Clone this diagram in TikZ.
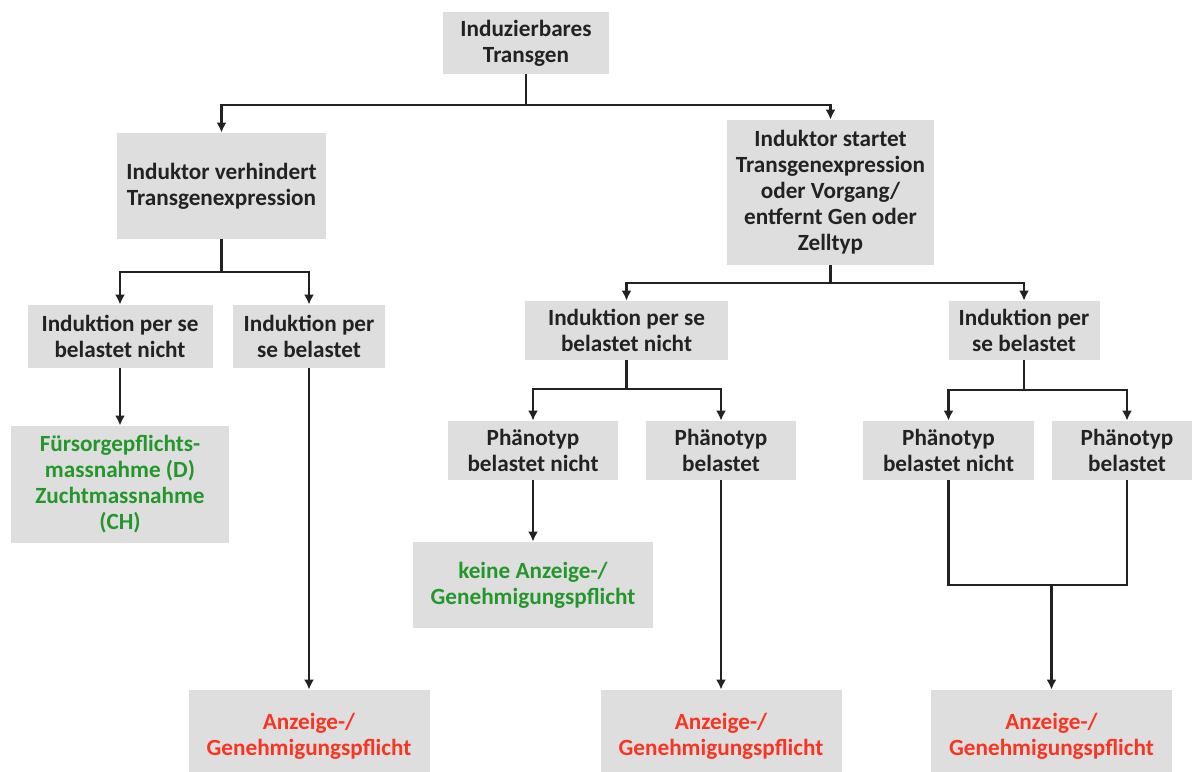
\documentclass[tikz,border=0pt]{standalone}
\usepackage{fontspec}
\setmainfont{Carlito}
\usepackage{tikz}
\usetikzlibrary{arrows.meta}

\definecolor{boxgray}{RGB}{222,222,222}
\definecolor{textgray}{RGB}{34,34,34}
\definecolor{okgreen}{RGB}{36,150,44}
\definecolor{dutyred}{RGB}{248,52,34}

\begin{document}
\begin{tikzpicture}[
    x=0.5pt, y=-0.5pt,
    box/.style={fill=boxgray, inner sep=0pt, align=center, text=textgray,
      font=\fontsize{11.6}{13}\selectfont\bfseries},
    % green and red end boxes
    okbox/.style={box, text=okgreen},
    dutybox/.style={box, text=dutyred, minimum width=120.5pt, minimum height=46pt},
    line/.style={draw=textgray, line width=1.2pt},
    arr/.style={line, -{Latex[length=5pt,width=5pt]}}
  ]
    \useasboundingbox (0,0) rectangle (1192,771);

    %--- Level 0 and 1 ---
    \node[box, minimum width=83pt, minimum height=31pt] (root) at (526,43) {Induzierbares\\Transgen};
    \node[box, minimum width=104.5pt, minimum height=53pt] (verhindert) at (221.5,186)
      {Induktor verhindert\\Transgenexpression};
    \node[box, minimum width=103.5pt, minimum height=72.5pt] (startet) at (830.5,192.5)
      {Induktor startet\\Transgenexpression\\oder Vorgang/\\entfernt Gen oder\\Zelltyp};

    %--- Level 2 ---
    \node[box, minimum width=92.5pt, minimum height=31.5pt] (verh_nicht) at (120,336.5)
      {Induktion per se\\belastet nicht};
    \node[box, minimum width=76pt, minimum height=31.5pt] (verh_bel) at (309,336.5)
      {Induktion per\\se belastet};
    \node[box, minimum width=101.5pt, minimum height=29.5pt] (start_nicht) at (626.5,330.5)
      {Induktion per se\\belastet nicht};
    \node[box, minimum width=75.5pt, minimum height=29.5pt] (start_bel) at (1024,330.5)
      {Induktion per\\se belastet};

    %--- Level 3 (Phaenotyp) ---
    \node[box, minimum width=85pt, minimum height=29.5pt] (nicht_nicht) at (533,450.5)
      {Phänotyp\\belastet nicht};
    \node[box, minimum width=75pt, minimum height=29.5pt] (nicht_bel) at (721,450.5)
      {Phänotyp\\belastet};
    \node[box, minimum width=85.5pt, minimum height=29.5pt] (bel_nicht) at (948.5,450.5)
      {Phänotyp\\belastet nicht};
    \node[box, minimum width=75pt, minimum height=29.5pt] (bel_bel) at (1127,450.5)
      {Phänotyp\\belastet};

    %--- Outcomes ---
    \node[okbox, minimum width=109pt, minimum height=58.5pt] (fuersorge) at (120,484.5)
      {Fürsorgepflichts-\\massnahme (D)\\Zuchtmassnahme\\(CH)};
    \node[okbox, minimum width=120pt, minimum height=43pt] (keine) at (533,585)
      {keine Anzeige-/\\Genehmigungspflicht};
    \node[dutybox] (anz_verh) at (309,736) {Anzeige-/\\Genehmigungspflicht};
    \node[dutybox] (anz_nicht) at (721,736) {Anzeige-/\\Genehmigungspflicht};
    \node[dutybox] (anz_bel) at (1051.5,736) {Anzeige-/\\Genehmigungspflicht};

    %--- Branch points
    \coordinate (j_root) at (526,105);
    \coordinate (j_verh) at (221.5,272);
    \coordinate (j_start) at (830.5,283);
    \coordinate (j_snicht) at (626.5,389);
    \coordinate (j_sbel) at (1024,390);
    \coordinate (j_join) at (1051.5,585);

    %--- Edges: parent.south to branch point, then down into child.north
    \draw[arr] (root.south) -- (j_root) -| (verhindert.north);
    \draw[arr] (root.south) -- (j_root) -| (startet.north);

    \draw[arr] (verhindert.south) -- (j_verh) -| (verh_nicht.north);
    \draw[arr] (verhindert.south) -- (j_verh) -| (verh_bel.north);
    \draw[arr] (startet.south) -- (j_start) -| (start_nicht.north);
    \draw[arr] (startet.south) -- (j_start) -| (start_bel.north);

    \draw[arr] (start_nicht.south) -- (j_snicht) -| (nicht_nicht.north);
    \draw[arr] (start_nicht.south) -- (j_snicht) -| (nicht_bel.north);
    \draw[arr] (start_bel.south) -- (j_sbel) -| (bel_nicht.north);
    \draw[arr] (start_bel.south) -- (j_sbel) -| (bel_bel.north);

    \draw[arr] (verh_nicht.south) -- (fuersorge.north);
    \draw[arr] (verh_bel.south) -- (anz_verh.north);
    \draw[arr] (nicht_nicht.south) -- (keine.north);
    \draw[arr] (nicht_bel.south) -- (anz_nicht.north);

    % both Phaenotyp boxes on the right meet before the last arrow
    \draw[line] (bel_nicht.south) |- (j_join) -| (bel_bel.south);
    \draw[arr] (j_join) -- (anz_bel.north);
  \end{tikzpicture}
\end{document}
